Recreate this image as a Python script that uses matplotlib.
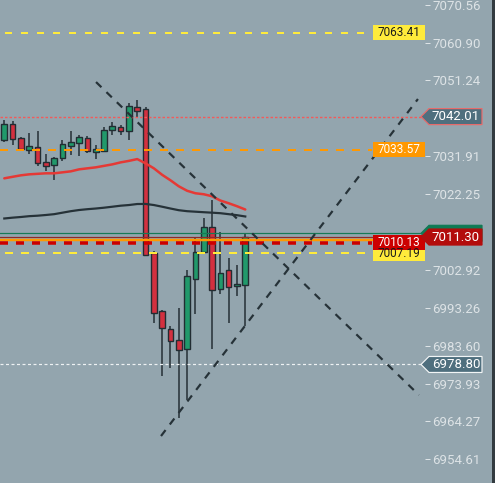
import matplotlib
matplotlib.use("Agg")
import matplotlib.pyplot as plt
from matplotlib.patches import Rectangle, Polygon

# one entry per candle (oldest first)
opens = [7036.11, 7040.18, 7036.62, 7033.47, 7034.33, 7030.52, 7029.76, 7031.43, 7034.48, 7035.35,
         7036.62, 7033.06, 7033.31, 7038.65, 7039.41, 7038.40, 7044.50, 7043.99, 7007.14, 6992.40,
         6987.82, 6985.03, 6982.74, 7000.68, 7007.55, 7013.75, 6997.99, 7002.82, 6998.75, 6999.01]
highs = [7041.19, 7041.01, 7036.70, 7037.71, 7038.22, 7032.55, 7031.79, 7035.93, 7038.22, 7037.20,
         7036.95, 7034.84, 7039.41, 7040.68, 7039.92, 7045.41, 7046.27, 7044.57, 7007.72, 6992.73,
         6988.66, 6993.24, 7002.82, 7011.28, 7016.19, 7020.86, 7012.55, 7005.94, 7004.17, 7011.97]
lows = [7035.42, 7034.84, 7033.64, 7032.55, 7029.50, 7028.13, 7025.94, 7030.59, 7032.30, 7032.04,
        7032.70, 7031.28, 7033.31, 7037.38, 7037.38, 7036.11, 7042.03, 7006.38, 6989.25, 6975.78,
        6977.81, 6965.03, 6969.78, 6991.79, 7007.55, 6982.64, 6996.72, 6989.25, 6996.36, 6988.49]
closes = [7040.18, 7036.36, 7033.82, 7034.48, 7030.26, 7029.40, 7031.54, 7035.09, 7035.60, 7036.69,
          7033.31, 7033.82, 7038.65, 7039.67, 7038.40, 7044.75, 7043.48, 7006.63, 6991.89, 6987.98,
          6984.78, 6982.49, 7001.29, 7007.55, 7013.75, 6997.74, 7002.06, 6998.50, 6999.26, 7011.30]

# moving averages
ma_fast = [7026.27, 7026.66, 7027.04, 7027.29, 7027.42, 7027.55, 7027.55, 7027.80, 7028.05, 7028.56,
           7028.82, 7029.07, 7029.45, 7029.83, 7030.34, 7030.72, 7031.18, 7030.09, 7028.82, 7027.16,
           7025.77, 7024.24, 7023.10, 7022.46, 7022.21, 7021.70, 7020.61, 7019.92, 7019.16, 7018.32]
ma_slow = [7016.03, 7016.24, 7016.41, 7016.62, 7016.74, 7016.92, 7017.13, 7017.51, 7017.89, 7018.19,
           7018.40, 7018.57, 7018.78, 7019.03, 7019.29, 7019.46, 7019.72, 7019.74, 7019.46, 7019.03,
           7018.57, 7018.14, 7017.89, 7017.76, 7017.63, 7017.51, 7017.38, 7017.13, 7016.87, 7016.54]

# horizontal levels with a tag box inside the chart
level_values = [7063.41, 7033.57, 7009.85, 7007.19]
level_tags = ["7063.41", "7033.57", "7010.13", "7007.19"]

# levels tagged on the price scale
price_marks = [7012.25, 7011.30, 7042.01, 6978.80]
price_tags = ["", "7011.30", "7042.01", "6978.80"]

orange_line = 7010.59

# trend lines: (bar index, price) end points
trend_down_x = [11.04, 49.90]
trend_down_y = [7050.83, 6971.01]
trend_up_x = [18.86, 49.78]
trend_up_y = [6960.55, 7046.50]

axis_ticks = [7070.56, 7060.90, 7051.24, 7031.91, 7022.25, 7002.92,
              6993.26, 6983.60, 6973.93, 6964.27, 6954.61]

BG = "#93a5ae"
DARK = "#222d33"
PX = 0.72  # one pixel in points


def ax_x(px):
    """pixel column -> axes fraction (axes is 425 px wide)"""
    return px / 425.0


def draw_candles(ax):
    for i, (o, h, l, c) in enumerate(zip(opens, highs, lows, closes)):
        color = "#21996b" if c >= o else "#d3303f"
        ax.vlines(i, l, h, color=DARK, linewidth=1.5 * PX, zorder=2)
        ax.bar(i, max(abs(c - o), 0.3), bottom=min(o, c), width=0.68,
               color=color, edgecolor=DARK, linewidth=1.4 * PX, zorder=2.5)


def inner_tag(ax, price, text, face, text_color):
    tr = ax.get_yaxis_transform()
    h = 1.9
    ax.add_patch(Rectangle((ax_x(373), price - h), ax_x(52), 2 * h, transform=tr,
                           facecolor=face, edgecolor="none", zorder=8))
    ax.text(ax_x(399), price, text, transform=tr, ha="center", va="center",
            fontsize=8.5, color=text_color, zorder=9)


def scale_tag(ax, price, text, face, edge):
    tr = ax.get_yaxis_transform()
    h = 2.04
    pts = [(ax_x(421), price), (ax_x(429), price + h), (ax_x(482), price + h),
           (ax_x(482), price - h), (ax_x(429), price - h)]
    ax.add_patch(Polygon(pts, closed=True, transform=tr, facecolor=face, edgecolor=edge,
                         linewidth=1.2 * PX, clip_on=False, zorder=10))
    if text:
        ax.text(ax_x(456), price, text, transform=tr, ha="center", va="center",
                fontsize=9.5, color="white", clip_on=False, zorder=11)


def main():
    plt.rcParams["font.family"] = ["Roboto", "DejaVu Sans"]
    plt.rcParams["lines.scale_dashes"] = False

    fig = plt.figure(figsize=(4.95, 4.83), dpi=100, facecolor=BG)
    ax = fig.add_axes([0, 0, 425 / 495, 1])
    ax.set_facecolor(BG)
    for s in ax.spines.values():
        s.set_visible(False)

    draw_candles(ax)
    idx = range(len(closes))
    ax.plot(idx, ma_fast, color="#e53935", linewidth=2.5 * PX, zorder=3, solid_capstyle="round")
    ax.plot(idx, ma_slow, color="#263238", linewidth=2.2 * PX, zorder=3)

    tr = ax.get_yaxis_transform()
    # thin lines running up to the price scale
    ax.plot([0, ax_x(421)], [price_marks[0]] * 2, transform=tr, color="#177a55", lw=1.2 * PX, zorder=4)
    ax.plot([0, ax_x(421)], [price_marks[1]] * 2, transform=tr, color="#8e2a2a", lw=1.2 * PX, zorder=4)
    ax.plot([0, ax_x(421)], [orange_line] * 2, transform=tr, color="#ff9800", lw=2.5 * PX, zorder=4)
    ax.plot([0, ax_x(421)], [price_marks[2]] * 2, transform=tr, color="#f25a5a", lw=1.4 * PX,
            dashes=(2.5 * PX, 2 * PX), zorder=4)
    ax.plot([0, ax_x(421)], [price_marks[3]] * 2, transform=tr, color="#eef2f3", lw=1.2 * PX,
            dashes=(3 * PX, 2.5 * PX), zorder=4)

    # dashed levels ending at their tags
    ax.plot([ax_x(5), ax_x(372)], [level_values[0]] * 2, transform=tr, color="#ffeb3b",
            lw=2 * PX, dashes=(7 * PX, 9 * PX), zorder=4)
    ax.plot([0, ax_x(372)], [level_values[1]] * 2, transform=tr, color="#ff9800",
            lw=2 * PX, dashes=(8 * PX, 8 * PX), zorder=4)
    ax.plot([0, ax_x(372)], [level_values[2]] * 2, transform=tr, color="#cc0000",
            lw=3.5 * PX, dashes=(8 * PX, 8 * PX), zorder=4.2)
    ax.plot([ax_x(5), ax_x(372)], [level_values[3]] * 2, transform=tr, color="#ffeb3b",
            lw=2 * PX, dashes=(8 * PX, 8 * PX), zorder=4)

    # trend lines
    ax.plot(trend_down_x, trend_down_y, color="#263238", lw=2.2 * PX, dashes=(7.5 * PX, 7 * PX), zorder=5)
    ax.plot(trend_up_x, trend_up_y, color="#263238", lw=2.2 * PX, dashes=(7.5 * PX, 7 * PX), zorder=5)

    # tags
    inner_tag(ax, level_values[0], level_tags[0], "#ffeb3b", "#1b1b1b")
    inner_tag(ax, level_values[1], level_tags[1], "#ff9800", "white")
    inner_tag(ax, level_values[3], level_tags[3], "#ffeb3b", "#1b1b1b")
    inner_tag(ax, level_values[2], level_tags[2], "#cc0000", "white")

    scale_tag(ax, price_marks[0], price_tags[0], "#0f7a55", "#0f7a55")
    scale_tag(ax, price_marks[1], price_tags[1], "#b30c0c", "#b30c0c")
    scale_tag(ax, price_marks[2], price_tags[2], "#4f6f7e", "#e86a6a")
    scale_tag(ax, price_marks[3], price_tags[3], "#4f6f7e", "#f2f5f6")

    ax.set_xlim(-0.517, 50.63)
    ax.set_ylim(6948.57, 7071.75)
    ax.set_xticks([])
    ax.yaxis.tick_right()
    ax.set_yticks(axis_ticks)
    ax.set_yticklabels([f"{v:.2f}" for v in axis_ticks])
    ax.tick_params(axis="y", direction="out", length=5 * PX, width=1 * PX, color="#dde3e6",
                   labelcolor="#dde3e6", labelsize=9.5, pad=1.5)

    # dark border on the far right
    fig.patches.append(Rectangle((492 / 495, 0), 3 / 495, 1, transform=fig.transFigure,
                                 facecolor="#333b40", edgecolor="none"))

    fig.savefig("out.png", dpi=100, facecolor=BG)


if __name__ == "__main__":
    main()
